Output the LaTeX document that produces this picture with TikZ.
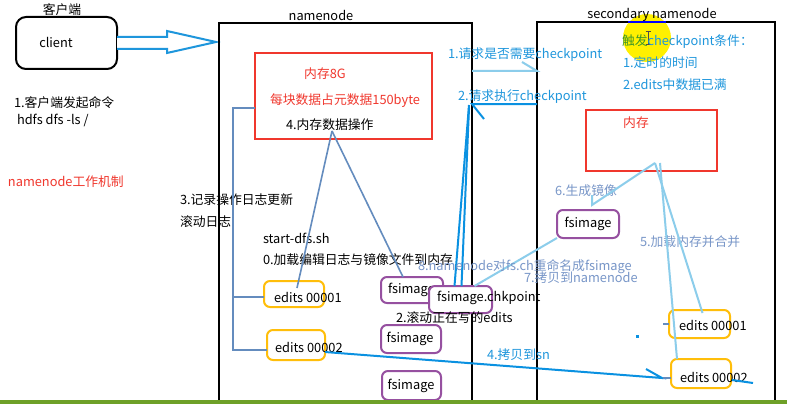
\documentclass[tikz,border=0pt]{standalone}
\usepackage{fontspec}
\setmainfont{Noto Sans CJK SC}
\definecolor{arrblue}{RGB}{30,150,220}
\definecolor{dkblue}{RGB}{10,145,225}
\definecolor{ltblue}{RGB}{140,205,235}
\definecolor{steel}{RGB}{100,140,190}
\definecolor{gblue}{RGB}{120,150,200}
\definecolor{redc}{RGB}{240,55,45}
\definecolor{orangec}{RGB}{255,190,10}
\definecolor{purplec}{RGB}{150,80,160}
\definecolor{greenbar}{RGB}{110,160,40}
\definecolor{yel}{RGB}{255,240,0}
\definecolor{trig}{RGB}{60,150,40}
\tikzset{
  every node/.style={inner sep=0pt,outer sep=0pt,font=\fontsize{12.8}{14}\selectfont},
  tx/.style={anchor=west},
  frame/.style={draw=black,line width=2pt},
  membox/.style={draw=redc,line width=2pt,fill=none},
  ebox/.style={draw=orangec,line width=2pt,rounded corners=6pt,fill=white},
  fbox/.style={draw=purplec,line width=2pt,rounded corners=6pt,fill=white},
  stl/.style={draw=steel,line width=1.6pt},
  lbl/.style={draw=ltblue,line width=2pt},
  dbl/.style={draw=dkblue,line width=2pt},
}
\begin{document}
\begin{tikzpicture}[x=1pt,y=-1pt]
\useasboundingbox (0,0) rectangle (787,404);
\fill[white] (0,0) rectangle (787,404);

% client
\node[draw=black,line width=2pt,rounded corners=10pt,minimum width=101pt,minimum height=52pt] (client) at (66.5,43) {};
\node at (56,42) {client};
\node at (62,10) {客户端};
\draw[arrblue,line width=2pt,fill=white,line join=miter] (client.east |- 0,37) -- (167,37) -- (167,31) -- (216,42) -- (167,53) -- (167,49) -- (client.east |- 0,49);

\node[tx] at (14,103) {1.客户端发起命令};
\node[tx] at (17,120) {hdfs dfs -ls /};
\node[tx,text=redc] at (8,182) {namenode工作机制};

% secondary yellow highlight (under frame)
\fill[yel] (647,38) circle (24);

% frames
\draw[frame] (219,404) |- (472,23) -- (472,404);
\coordinate (nn) at (472,200);
\draw[frame] (537,404) |- (775,22) -- (775,404);
\coordinate (snn) at (537,200);
\node at (321,15) {namenode};
\node at (652,15) {secondary namenode};
\draw[blue,line width=2pt] (628,22) -- (666,22);
% cursor
\draw[black!70,line width=0.8pt] (648,31) -- (648,44) (645.5,31) -- (650.5,31) (645.5,44) -- (650.5,44);

% namenode memory
\node[membox,minimum width=177pt,minimum height=85pt] (nnmem) at (343.5,96) {};
\node[text=redc] at (325,74) {内存8G};
\node[tx,text=redc] at (270,101) {每块数据占元数据150byte};
\node[tx] at (286,125) {4.内存数据操作};
\coordinate (m4) at (332,131);

% secondary memory
\node[membox,minimum width=131pt,minimum height=61pt] (snnmem) at (651.5,140.5) {};
\node[text=redc] at (636,123) {内存};
\node[tx,text=arrblue] at (622,42) {{\color{trig}触发}checkpoint条件：};
\node[tx,text=arrblue] at (623,63) {1.定时的时间};
\node[tx,text=arrblue] at (623,85) {2.edits中数据已满};

% texts in namenode
\node[tx] at (180,200) {3.记录操作日志更新};
\node[tx] at (180,222) {滚动日志};
\node[tx] at (263,238) {start-dfs.sh};
\node[tx] at (263,260) {0.加载编辑日志与镜像文件到内存};

% request texts
\node[tx,text=arrblue] at (448,55) {1.请求是否需要checkpoint};
\node[tx,text=arrblue] at (458,97) {2.请求执行checkpoint};

% namenode boxes
\node[ebox,minimum width=60pt,minimum height=26pt] (e1) at (294,294) {};
\node[tx] at (274,297) {edits 00001};
\node[ebox,minimum width=58pt,minimum height=30pt] (e2) at (296,345) {};
\node[tx] at (275,347) {edits 00002};
\node[fbox,minimum width=62pt,minimum height=26pt] (fs1) at (412,290) {};
\node[tx] at (388,290) {fsimage};
\node[fbox,minimum width=60pt,minimum height=28pt] (fs2) at (411,339) {};
\node at (410,339) {fsimage};
\node[fbox,minimum width=59pt,minimum height=29pt] (fs3) at (411.5,385.5) {};
\node at (411,386) {fsimage};

% memory operation lines
\draw[stl] (m4) -- ([xshift=3pt,yshift=-7pt]e1.north);
\draw[stl] (m4) -- ([xshift=-9pt]fs1.north);

% bracket
\coordinate (b1) at (233,108);
\coordinate (b2) at (233,350);
\draw[stl] (nnmem.west |- b1) -- (b1) -- (b2) -- (e2.west |- b2);
\draw[stl] (b1 |- 0,297) -- (e1.west |- 0,297);

% chkpoint box
\node[fbox,minimum width=63pt,minimum height=27pt] (chk) at (460.5,299.5) {};
\node[tx] at (437,298) {fsimage.chkpoint};
\node[tx] at (396,318) {2.滚动正在写的edits};

% secondary boxes
\node[fbox,minimum width=62pt,minimum height=28pt] (sfs) at (588,224) {};
\node at (588,224) {fsimage};
\node[ebox,minimum width=61pt,minimum height=28pt] (se1) at (699.5,324) {};
\node[tx] at (679,325) {edits 00001};
\node[ebox,minimum width=60pt,minimum height=29pt] (se2) at (701,373.5) {};
\node[tx] at (680,377) {edits 00002};

\node[tx,text=gblue] at (555,191) {6.生成镜像};
\node[tx,text=gblue] at (640,242) {5.加载内存并合并};

% request lines
\draw[lbl] (nn |- 0,71) -- (snn |- 0,71) -- ++(-15,-9);
\draw[dbl] (snn |- 0,104) -- (nn |- 0,104) -- ++(12,15);
\draw[dbl] (469,105) -- ([xshift=-6pt]chk.north);
\draw[dbl] (469,108) -- ([xshift=1pt]chk.north);

% secondary lines
\coordinate (sa) at (655,163);
\coordinate (sb) at (660,163);
\draw[lbl,line join=miter] ([xshift=4pt,yshift=15pt]sfs.north) -- ([xshift=4pt,yshift=5pt]sfs.north) -- (sa);
\draw[lbl] (sa) -- ([xshift=3pt,yshift=-3pt]se1.north);
\draw[lbl] (sb) -- ([xshift=-24pt]se2.north);
\draw[lbl] (sfs.south west) -- ([xshift=14pt]chk.north);

\node[tx,text=gblue] at (418,267) {8.namenode对fs.ch重命名成fsimage};
\node[tx,text=gblue] at (524,278) {7.拷贝到namenode};

% copy to sn
\draw[dbl] ([yshift=-7pt]e2.east) -- ([xshift=-9pt,yshift=-4.5pt]se2.west) -- ++(-16,-9);
\draw[dbl] (732,380) -- (753,383);
\node[tx,text=arrblue] at (487,355) {4.拷贝到sn};
\draw[stl] ([xshift=-6pt]se1.west) -- (se1.west);
\draw[stl] ([xshift=-8pt,yshift=-4.5pt]se2.west) -- ([yshift=-4.5pt]se2.west);
\fill[dkblue] (636,335) rectangle (639,338);

% bottom bar
\fill[greenbar] (0,400) rectangle (787,404);
\end{tikzpicture}
\end{document}
